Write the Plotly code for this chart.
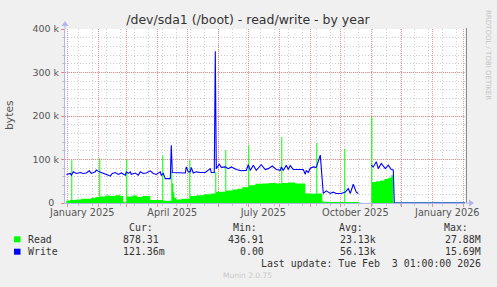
import plotly.graph_objects as go

# ---------------- data ----------------
read_dates = [
    "2024-12-31", "2025-01-04", "2025-01-05", "2025-01-06", "2025-01-10", "2025-01-15",
    "2025-01-20", "2025-01-25", "2025-01-30", "2025-02-02", "2025-02-03", "2025-02-08",
    "2025-02-13", "2025-02-18", "2025-02-23", "2025-02-26", "2025-03-01", "2025-03-02",
    "2025-03-07", "2025-03-12", "2025-03-17", "2025-03-25", "2025-04-06", "2025-04-07",
    "2025-04-15", "2025-04-16", "2025-04-17", "2025-04-18", "2025-04-20", "2025-04-25",
    "2025-05-03", "2025-05-04", "2025-05-10", "2025-05-18", "2025-05-25", "2025-05-29",
    "2025-05-30", "2025-06-08", "2025-06-09", "2025-06-15", "2025-06-20", "2025-06-25",
    "2025-07-01", "2025-07-02", "2025-07-08", "2025-07-15", "2025-07-22", "2025-07-29",
    "2025-08-03", "2025-08-04", "2025-08-10", "2025-08-17", "2025-08-27", "2025-09-02",
    "2025-09-07", "2025-09-08", "2025-09-13", "2025-09-20", "2025-10-05", "2025-10-06",
    "2025-10-20", "2025-11-01", "2025-11-02", "2025-11-06", "2025-11-10", "2025-11-14",
    "2025-11-18", "2025-11-21", "2025-11-23", "2026-02-03",
]
read_bytes = [
    6000, 7000, 98000, 7000, 8000, 10000,
    10000, 12000, 14000, 103000, 15000, 17000,
    16000, 18000, 16000, 2000, 100000, 15000,
    17000, 14000, 16000, 7000, 110000, 5000,
    72000, 45000, 25000, 12000, 8000, 10000,
    98000, 16000, 18000, 20000, 22000, 72000,
    26000, 121000, 29000, 31000, 33000, 36000,
    133000, 41000, 44000, 45000, 46000, 45000,
    152000, 46000, 47000, 45000, 22000, 21000,
    138000, 22000, 3000, 2500, 125000, 2500,
    None, 198000, 48000, 50000, 52000, 55000,
    58000, 64000, 900, 878,
]

write_dates = [
    "2024-12-31", "2025-01-04", "2025-01-05", "2025-01-07", "2025-01-10", "2025-01-14",
    "2025-01-17", "2025-01-20", "2025-01-23", "2025-01-25", "2025-01-29", "2025-01-30",
    "2025-02-02", "2025-02-04", "2025-02-08", "2025-02-11", "2025-02-13", "2025-02-15",
    "2025-02-18", "2025-02-21", "2025-02-24", "2025-02-28", "2025-03-01", "2025-03-03",
    "2025-03-05", "2025-03-06", "2025-03-10", "2025-03-13", "2025-03-15", "2025-03-18",
    "2025-03-21", "2025-03-25", "2025-03-28", "2025-03-31", "2025-04-04", "2025-04-05",
    "2025-04-07", "2025-04-09", "2025-04-14", "2025-04-15", "2025-04-16", "2025-04-24",
    "2025-04-29", "2025-04-30", "2025-05-02", "2025-05-04", "2025-05-05", "2025-05-07",
    "2025-05-10", "2025-05-14", "2025-05-19", "2025-05-24", "2025-05-25", "2025-05-28",
    "2025-05-29", "2025-05-30", "2025-06-02", "2025-06-04", "2025-06-08", "2025-06-11",
    "2025-06-14", "2025-06-19", "2025-06-24", "2025-06-29", "2025-07-01", "2025-07-03",
    "2025-07-06", "2025-07-09", "2025-07-14", "2025-07-18", "2025-07-21", "2025-07-25",
    "2025-07-29", "2025-08-02", "2025-08-03", "2025-08-05", "2025-08-08", "2025-08-10",
    "2025-08-12", "2025-08-15", "2025-08-25", "2025-08-27", "2025-08-28", "2025-08-30",
    "2025-09-01", "2025-09-04", "2025-09-07", "2025-09-11", "2025-09-12", "2025-09-14",
    "2025-09-17", "2025-09-21", "2025-09-24", "2025-09-27", "2025-10-02", "2025-10-06",
    "2025-10-09", "2025-10-11", "2025-10-14", "2025-10-17", "2025-10-19", "2025-10-20",
    "2025-11-01", "2025-11-03", "2025-11-06", "2025-11-08", "2025-11-11", "2025-11-15",
    "2025-11-18", "2025-11-21", "2025-11-23", "2025-11-24", "2026-02-03",
]
write_bytes = [
    65600, 68000, 64000, 71600, 68000, 70000,
    68000, 69000, 74000, 68000, 71600, 76000,
    71600, 70000, 68000, 64000, 61700, 68000,
    70000, 65600, 69000, 64000, 71600, 68000,
    71600, 66000, 69000, 64000, 71600, 68000,
    69000, 74000, 68000, 65600, 71600, 64000,
    68000, 56000, 56000, 133000, 70000, 70000,
    69000, 83000, 71600, 71600, 82000, 69000,
    71600, 70000, 70000, 79000, 70000, 70000,
    349000, 79000, 89000, 82000, 83000, 79000,
    83000, 77000, 74000, 75000, 88000, 75000,
    87000, 75000, 88000, 77000, 79000, 85000,
    77000, 75000, 83000, 75000, 87000, 77000,
    86000, 77000, 77000, 66000, 75000, 70000,
    80000, 83000, 82000, 110000, 82000, 22000,
    28000, 22000, 25000, 22000, 22000, 25000,
    33000, 22000, 43000, 25000, 22000, None,
    87000, 83000, 95000, 79000, 91000, 79000,
    87000, 77000, 76000, 0, 0,
]
assert len(read_dates) == len(read_bytes)
assert len(write_dates) == len(write_bytes)

x_range = ["2024-12-29 17:00", "2026-02-02 17:00"]
label_dates = ["2025-01-16", "2025-04-16", "2025-07-16", "2025-10-16", "2026-01-16"]
label_text = ["January 2025", "April 2025", "July 2025", "October 2025", "January 2026"]
month_starts = ["2025-01-01", "2025-02-01", "2025-03-01", "2025-04-01", "2025-05-01",
                "2025-06-01", "2025-07-01", "2025-08-01", "2025-09-01", "2025-10-01",
                "2025-11-01", "2025-12-01", "2026-01-01", "2026-02-01"]
y_ticks = [0, 100000, 200000, 300000, 400000]
y_text = ["0\u2002", "100 k", "200 k", "300 k", "400 k"]

legend_names = ["Read", "Write"]
legend_colors = ["#00ff00", "#0000ff"]
cur_vals = ["878.31", "121.36m"]
min_vals = ["436.91", "0.00"]
avg_vals = ["23.13k", "56.13k"]
max_vals = ["27.88M", "15.69M"]

# ---------------- geometry ----------------
WIDTH, HEIGHT = 497, 287
L, R, T, B = 65, 32, 29, 84
PW, PH = WIDTH - L - R, HEIGHT - T - B


def fx(px):
    return (px - L) / PW


def fy(py):
    return (T + PH - py) / PH


MAJ = "rgba(240,60,60,0.55)"
MIN = "rgba(130,130,130,0.38)"
AXC = "#b4b4ee"
MONO = "DejaVu Sans Mono"


def segments(xs, ys):
    """Split a series at its unknown (None) samples so that fills do not bridge gaps."""
    out, cx, cy = [], [], []
    for xv, yv in zip(xs, ys):
        if yv is None:
            if cx:
                cx.append(xv)
                cy.append(cy[-1])
                out.append((cx, cy))
            cx, cy = [], []
        else:
            cx.append(xv)
            cy.append(yv)
    if cx:
        out.append((cx, cy))
    return out


fig = go.Figure()
for sx, sy in segments(read_dates, read_bytes):
    fig.add_trace(go.Scatter(
        x=sx, y=sy, mode="lines", line=dict(width=0, shape="hv"),
        fill="tozeroy", fillcolor="#00ff00", name="Read",
        xaxis="x", yaxis="y"))
fig.add_trace(go.Scatter(
    x=write_dates, y=write_bytes, mode="lines", line=dict(width=1.1, color="#0000ff"),
    connectgaps=False, name="Write", xaxis="x2", yaxis="y"))

fig.update_layout(
    width=WIDTH, height=HEIGHT,
    margin=dict(l=L, r=R, t=T, b=B, pad=0),
    paper_bgcolor="#f0f0f0", plot_bgcolor="#ffffff",
    showlegend=False,
    font=dict(family="DejaVu Sans", color="#555555", size=10),
    title=dict(text="/dev/sda1 (/boot) - read/write - by year", x=248 / WIDTH,
               xanchor="center", y=1 - 19.5 / HEIGHT, yanchor="middle",
               font=dict(size=12.5, color="#333333")),
    xaxis=dict(
        type="date", range=x_range, tickmode="array", tickvals=label_dates,
        ticktext=label_text, ticks="", showgrid=False, zeroline=False,
        showline=True, linecolor=AXC, linewidth=1,
        tickfont=dict(size=9.7, color="#555555"),
        minor=dict(tickmode="array", tickvals=month_starts, showgrid=True,
                   gridcolor=MAJ, griddash="1px,1px", gridwidth=1,
                   ticks="outside", ticklen=3, tickcolor=MAJ),
        fixedrange=True),
    xaxis2=dict(
        type="date", range=x_range, overlaying="x", anchor="y", side="bottom",
        showticklabels=False, dtick=14 * 86400000, tick0="2025-01-12",
        showgrid=True, gridcolor=MIN, griddash="1px,2px", gridwidth=1,
        ticks="outside", ticklen=2, tickcolor=MIN, zeroline=False,
        showline=False, fixedrange=True),
    yaxis=dict(
        range=[0, 400000], tickmode="array", tickvals=y_ticks, ticktext=y_text,
        showgrid=True, gridcolor=MAJ, griddash="1px,1px", zeroline=False,
        showline=True, linecolor=AXC, linewidth=1,
        ticks="outside", ticklen=3, tickcolor=MAJ,
        tickfont=dict(size=9.5, color="#555555"),
        minor=dict(dtick=20000, showgrid=True, gridcolor=MIN, griddash="1px,2px",
                   ticks="outside", ticklen=2, tickcolor=MIN),
        fixedrange=True),
)

ann = []


def text(x, y, s, anchor="left", size=9.9, color="#333333", family=MONO, angle=0):
    ann.append(dict(x=fx(x), y=fy(y), xref="paper", yref="paper", text=s,
                    showarrow=False, xanchor=anchor, yanchor="middle",
                    textangle=angle, font=dict(size=size, color=color, family=family)))


text(10, 115, "bytes", anchor="center", size=10.8, color="#555555",
     family="DejaVu Sans", angle=-90)
text(488, 55, "RRDTOOL / TOBI OETIKER", anchor="center", size=7, color="#c4c4c4",
     family="DejaVu Sans", angle=90)

hdr_y, row_y = 227.7, [239.3, 251.7]
for label, xr in zip(["Cur:", "Min:", "Avg:", "Max:"], [155, 259.3, 365, 470]):
    text(xr, hdr_y, label, anchor="right")
for i in range(2):
    text(26, row_y[i], legend_names[i])
    text(161 if not cur_vals[i].endswith("m") else 166.9, row_y[i], cur_vals[i], anchor="right")
    text(266, row_y[i], min_vals[i], anchor="right")
    text(377.7, row_y[i], avg_vals[i], anchor="right")
    text(482.7, row_y[i], max_vals[i], anchor="right")
text(482.7, 263.3, "Last update: Tue Feb \u00a03 01:00:00 2026", anchor="right")
text(247.7, 275.7, "Munin 2.0.75", anchor="center", size=7.5, color="#c8c8c8",
     family="DejaVu Sans")
fig.update_layout(annotations=ann)

shapes = []
for i in range(2):
    shapes.append(dict(type="rect", xref="paper", yref="paper",
                       x0=fx(14), x1=fx(20.5), y0=fy(row_y[i] - 3), y1=fy(row_y[i] + 3),
                       fillcolor=legend_colors[i], line=dict(width=0)))
# right frame line
shapes.append(dict(type="line", xref="paper", yref="paper", x0=fx(466.5), x1=fx(466.5),
                   y0=fy(203), y1=fy(28), line=dict(color="#8a8a8a", width=1)))
# axis arrows
shapes.append(dict(type="line", xref="paper", yref="paper", x0=fx(465), x1=fx(470),
                   y0=fy(203), y1=fy(203), line=dict(color=AXC, width=1)))
shapes.append(dict(type="path", xref="paper", yref="paper",
                   path=f"M {fx(469)},{fy(199.5)} L {fx(474)},{fy(203)} L {fx(469)},{fy(206.5)} Z",
                   fillcolor=AXC, line=dict(width=0)))
shapes.append(dict(type="line", xref="paper", yref="paper", x0=fx(65), x1=fx(65),
                   y0=fy(29), y1=fy(25), line=dict(color=AXC, width=1)))
shapes.append(dict(type="path", xref="paper", yref="paper",
                   path=f"M {fx(61.5)},{fy(26)} L {fx(65)},{fy(21)} L {fx(68.5)},{fy(26)} Z",
                   fillcolor=AXC, line=dict(width=0)))
fig.update_layout(shapes=shapes)

fig.write_html("out.html")
